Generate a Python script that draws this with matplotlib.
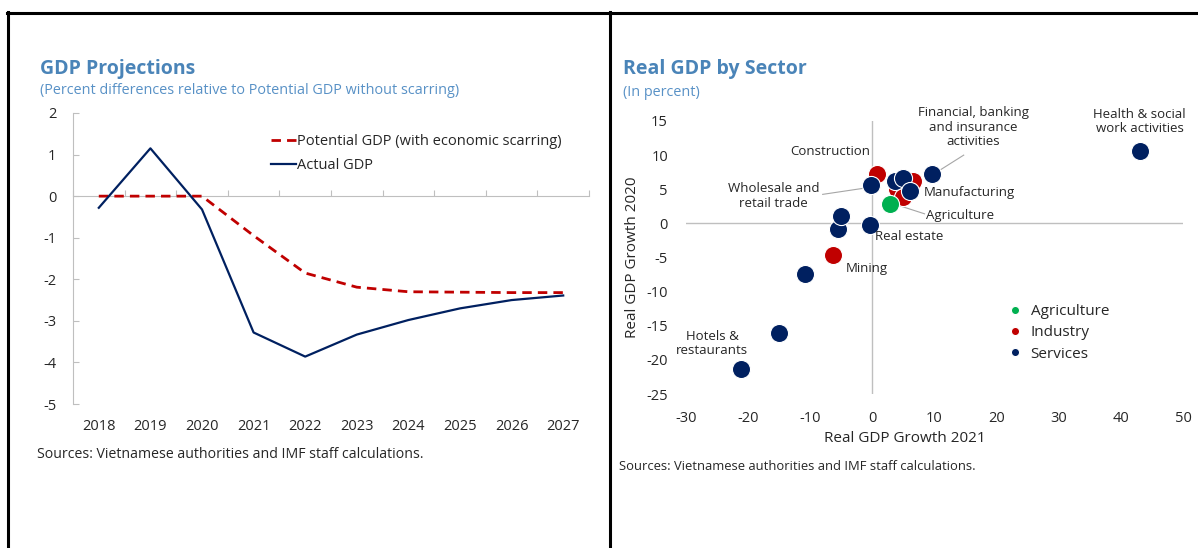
import numpy as np
import matplotlib
matplotlib.use("Agg")
import matplotlib.pyplot as plt
from matplotlib.lines import Line2D

plt.rcParams["font.family"] = ["Open Sans", "DejaVu Sans"]
plt.rcParams["axes.unicode_minus"] = False

NAVY, RED, GREEN = "#002060", "#C00000", "#00B050"
TITLE_C, SUB_C = "#4A84B8", "#5891C6"
AXIS_C = "#BFBFBF"
TXT_C = "#262626"

# ---- left panel data
years = ["2018", "2019", "2020", "2021", "2022", "2023", "2024", "2025", "2026", "2027"]
potential_gdp = [0.0, 0.0, 0.0, -0.95, -1.85, -2.19, -2.30, -2.31, -2.32, -2.32]
actual_gdp = [-0.28, 1.15, -0.32, -3.28, -3.86, -3.33, -2.98, -2.70, -2.50, -2.39]

# ---- right panel data (x = growth 2021, y = growth 2020)
agri_x, agri_y = [2.8], [2.9]
ind_x = [0.75, 4.0, 5.0, 6.6, -6.4]
ind_y = [7.2, 5.1, 3.9, 6.2, -4.7]
serv_x = [43.1, -21.1, -15.0, -10.8, -5.5, -5.0, -0.4, -0.2, 3.6, 5.0, 6.0, 9.6]
serv_y = [10.6, -21.3, -16.0, -7.4, -0.8, 1.1, -0.3, 5.6, 6.2, 6.7, 4.75, 7.2]

fig = plt.figure(figsize=(11.98, 5.48), dpi=100)

# ================= left: GDP projections
ax = fig.add_axes([73 / 1198, 1 - 404 / 548, 516 / 1198, 291 / 548])
xs = np.arange(len(years))
ax.plot(xs, potential_gdp, color=RED, lw=2.0, ls=(0, (3.4, 2.2)), zorder=3,
        label="Potential GDP (with economic scarring)")
ax.plot(xs, actual_gdp, color=NAVY, lw=1.6, zorder=3, label="Actual GDP")
ax.set_xlim(-0.5, len(years) - 0.5)
ax.set_ylim(-5, 2)
for s in ["top", "right"]:
    ax.spines[s].set_visible(False)
ax.spines["left"].set_color(AXIS_C)
ax.spines["bottom"].set_color(AXIS_C)
ax.spines["bottom"].set_position(("data", 0))
ax.set_xticks(np.arange(-0.5, len(years), 1.0))
ax.tick_params(axis="x", direction="in", length=4, color=AXIS_C, labelbottom=False)
ax.set_yticks(range(-5, 3))
ax.tick_params(axis="y", direction="in", length=4, color=AXIS_C, pad=12,
               labelsize=10.5, labelcolor=TXT_C)
sec = ax.secondary_xaxis(0)
sec.set_xticks(xs)
sec.set_xticklabels(years)
sec.tick_params(length=0, pad=11, labelsize=10.5, labelcolor=TXT_C)
sec.spines["bottom"].set_visible(False)
ax.legend(loc="upper left", bbox_to_anchor=(271 / 1198, 1 - 134 / 548),
          bbox_transform=fig.transFigure, frameon=False, fontsize=10.5,
          handlelength=1.7, handletextpad=0.05, borderpad=0, borderaxespad=0,
          labelspacing=0.6, labelcolor=TXT_C)

fig.text(40 / 1198, 1 - 69 / 548, "GDP Projections", fontsize=14, weight="bold",
         color=TITLE_C, va="center")
fig.text(40 / 1198, 1 - 91 / 548,
         "(Percent differences relative to Potential GDP without scarring)",
         fontsize=10.4, color=SUB_C, va="center")
fig.text(37 / 1198, 1 - 454 / 548,
         "Sources: Vietnamese authorities and IMF staff calculations.",
         fontsize=10.2, color=TXT_C, va="center")

# ================= right: Real GDP by sector
bx = fig.add_axes([686 / 1198, 1 - 394 / 548, 497 / 1198, 273 / 548])
bx.set_xlim(-30, 50)
bx.set_ylim(-25, 15)
for s in bx.spines.values():
    s.set_visible(False)
bx.axhline(0, color=AXIS_C, lw=1, zorder=0)
bx.axvline(0, color=AXIS_C, lw=1, zorder=0)
bx.set_xticks(range(-30, 51, 10))
bx.set_yticks(range(-25, 16, 5))
bx.tick_params(length=0, labelsize=10.5, labelcolor=TXT_C)
bx.tick_params(axis="x", pad=12)
bx.tick_params(axis="y", pad=13)
bx.set_xlabel("Real GDP Growth 2021", fontsize=11, color=TXT_C)
bx.set_ylabel("Real GDP Growth 2020", fontsize=11, color=TXT_C)
bx.xaxis.set_label_coords(0.44, -0.135)
bx.yaxis.set_label_coords(-0.093, 0.5)

kw = dict(s=170, edgecolors="white", linewidths=0.8)
bx.scatter(serv_x, serv_y, color=NAVY, label="Services", zorder=3, **kw)
bx.scatter(ind_x, ind_y, color=RED, label="Industry", zorder=2, **kw)
bx.scatter(agri_x, agri_y, color=GREEN, label="Agriculture", zorder=3, **kw)

h, l = bx.get_legend_handles_labels()
order = [2, 1, 0]
bx.legend([h[i] for i in order], [l[i] for i in order], loc="upper left",
          bbox_to_anchor=(1007 / 1198, 1 - 304 / 548), bbox_transform=fig.transFigure,
          frameon=False, fontsize=11, markerscale=0.45, handlelength=1.0,
          handletextpad=0.55, borderpad=0, borderaxespad=0, labelspacing=0.42,
          labelcolor=TXT_C, scatteryoffsets=[0.5])

lab = dict(fontsize=9.5, color=TXT_C, va="center")
bx.text(16.3, 14.1, "Financial, banking\nand insurance\nactivities", ha="center",
        linespacing=1.15, **lab)
bx.text(43.0, 14.9, "Health & social\nwork activities", ha="center",
        linespacing=1.15, **lab)
bx.text(-0.3, 10.5, "Construction", ha="right", **lab)
bx.text(-15.9, 4.0, "Wholesale and\nretail trade", ha="center", linespacing=1.15, **lab)
bx.text(8.3, 4.5, "Manufacturing", ha="left", **lab)
bx.text(8.7, 1.2, "Agriculture", ha="left", **lab)
bx.text(0.5, -1.9, "Real estate", ha="left", **lab)
bx.text(-4.3, -6.6, "Mining", ha="left", **lab)
bx.text(-25.8, -17.6, "Hotels &\nrestaurants", ha="center", linespacing=1.15, **lab)
lead = dict(color="#A6A6A6", lw=0.8, zorder=1)
bx.plot([14.7, 10.0], [10.0, 7.3], **lead)
bx.plot([-8.0, -1.0], [4.25, 5.2], **lead)
bx.plot([8.4, 3.3], [1.4, 2.9], **lead)

fig.text(623 / 1198, 1 - 69 / 548, "Real GDP by Sector", fontsize=14, weight="bold",
         color=TITLE_C, va="center")
fig.text(623 / 1198, 1 - 92 / 548, "(In percent)", fontsize=10.4, color=SUB_C, va="center")
fig.text(619 / 1198, 1 - 466 / 548,
         "Sources: Vietnamese authorities and IMF staff calculations.",
         fontsize=9.4, color=TXT_C, va="center")

# panel frame lines
frame = dict(color="black", lw=2.2, transform=fig.transFigure)
fig.add_artist(Line2D([7 / 1198, 1], [1 - 13 / 548] * 2, **frame))
fig.add_artist(Line2D([8 / 1198] * 2, [0, 1 - 12 / 548], **frame))
fig.add_artist(Line2D([610 / 1198] * 2, [0, 1 - 12 / 548], **frame))

fig.savefig("out.png", dpi=100)
